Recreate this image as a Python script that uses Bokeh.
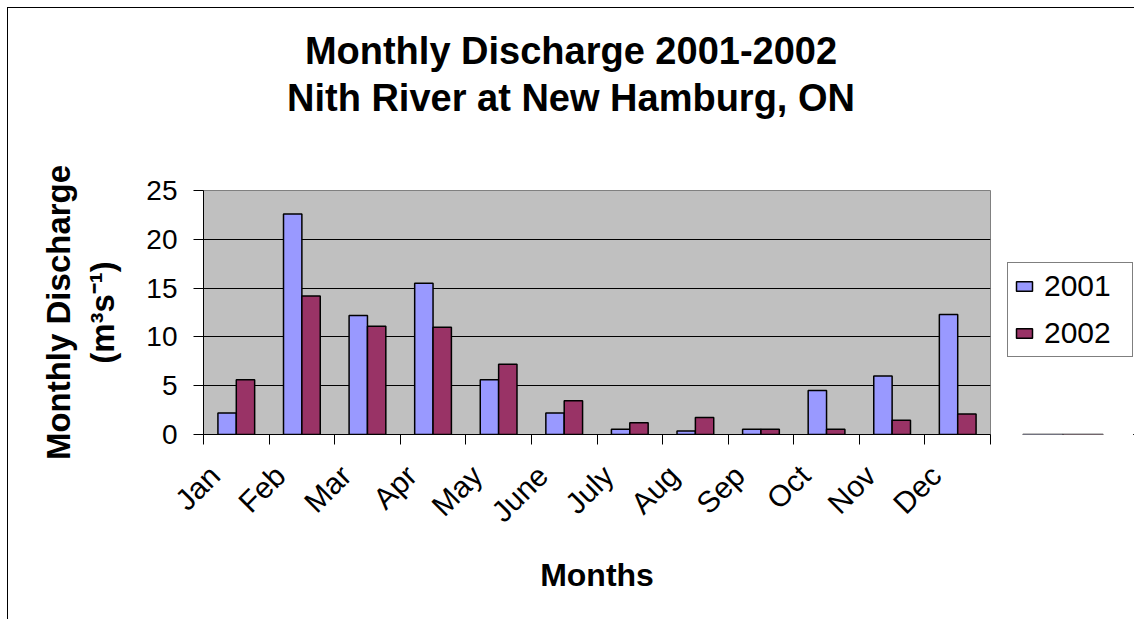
import math
from bokeh.plotting import figure
from bokeh.models import (Range1d, FixedTicker, Legend, LegendItem, ColumnDataSource, Div)
from bokeh.layouts import column, row
from bokeh.embed import file_html
from bokeh.resources import INLINE

title_lines = ["Monthly Discharge 2001-2002", "Nith River at New Hamburg, ON"]
months = ["Jan", "Feb", "Mar", "Apr", "May", "June", "July", "Aug", "Sep", "Oct", "Nov", "Dec"]
series = ["2001", "2002"]
q2001 = [2.2, 22.6, 12.2, 15.5, 5.6, 2.2, 0.55, 0.35, 0.55, 4.5, 6.0, 12.3]
q2002 = [5.6, 14.2, 11.1, 11.0, 7.2, 3.45, 1.2, 1.75, 0.55, 0.55, 1.45, 2.1]
y_ticks = [0, 5, 10, 15, 20, 25]
colors = ["#9999FF", "#993366"]

FONT = "Liberation Sans"
TOTAL_W, TOTAL_H = 1126, 611
TITLE_H = 130
MAIN_W = 983
LEG_W = TOTAL_W - MAIN_W
FIG_H = TOTAL_H - TITLE_H
BORDER_TOP, BORDER_BOTTOM = 52, 185

centers = [i + 0.5 for i in range(len(months))]
label_pos = [c - 0.33 for c in centers]
src = ColumnDataSource(data=dict(
    x1=[c - 0.14 for c in centers], x2=[c + 0.14 for c in centers],
    q2001=q2001, q2002=q2002))

# ---- title ----
title_div = Div(
    text=('<div style="width:%dpx;text-align:center;font-family:\'Liberation Sans\';'
          'font-weight:bold;font-size:38px;line-height:47px;padding-top:20px;'
          'color:black;margin:0;">' % TOTAL_W) + "<br>".join(title_lines) + "</div>",
    width=TOTAL_W, height=TITLE_H, margin=(0, 0, 0, 0))

# ---- main chart ----
p = figure(width=MAIN_W, height=FIG_H, output_backend="svg", toolbar_location=None,
           x_range=Range1d(0, len(months)), y_range=Range1d(0, 25),
           min_border_left=195, min_border_right=1,
           min_border_top=BORDER_TOP, min_border_bottom=BORDER_BOTTOM)

p.background_fill_color = "#C0C0C0"
p.border_fill_color = "white"
p.outline_line_color = "#808080"
p.outline_line_width = 1

r1 = p.vbar(x="x1", top="q2001", width=0.28, source=src, fill_color=colors[0],
            line_color="black", line_width=1.5)
r2 = p.vbar(x="x2", top="q2002", width=0.28, source=src, fill_color=colors[1],
            line_color="black", line_width=1.5)

# x axis
xa = p.xaxis[0]
xa.ticker = FixedTicker(ticks=label_pos, minor_ticks=list(range(len(months) + 1)))
xa.major_label_overrides = {c: m for c, m in zip(label_pos, months)}
xa.major_label_orientation = math.pi / 4
xa.major_tick_line_color = None
xa.major_tick_out = 10
xa.major_tick_in = 0
xa.minor_tick_line_color = "black"
xa.minor_tick_out = 10
xa.minor_tick_in = 0
xa.axis_line_color = "black"
xa.major_label_text_font = FONT
xa.major_label_text_font_size = "30px"
xa.major_label_text_color = "black"
xa.major_label_standoff = 26
xa.axis_label = "Months"
xa.axis_label_text_font = FONT
xa.axis_label_text_font_size = "32px"
xa.axis_label_text_font_style = "bold"
xa.axis_label_text_color = "black"
xa.axis_label_standoff = 14

# y axis
ya = p.yaxis[0]
ya.ticker = FixedTicker(ticks=y_ticks)
ya.major_tick_out = 10
ya.major_tick_in = 0
ya.minor_tick_line_color = None
ya.axis_line_color = "black"
ya.major_label_text_font = FONT
ya.major_label_text_font_size = "28px"
ya.major_label_text_color = "black"
ya.major_label_standoff = 16
ya.axis_label = "Monthly Discharge\n(m³s⁻¹)"
ya.axis_label_text_font = FONT
ya.axis_label_text_font_size = "33px"
ya.axis_label_text_font_style = "bold"
ya.axis_label_text_color = "black"
ya.axis_label_standoff = 22

p.xgrid.grid_line_color = None
p.ygrid.grid_line_color = "black"
p.ygrid.grid_line_width = 1
p.ygrid.ticker = FixedTicker(ticks=y_ticks[1:-1])

# ---- legend holder (right of chart); its ranges keep the bars out of view ----
q = figure(width=LEG_W, height=FIG_H, output_backend="svg", toolbar_location=None,
           x_range=Range1d(0, 1), y_range=Range1d(1000, 1001),
           x_axis_type=None, y_axis_type=None,
           min_border_left=0, min_border_right=0,
           min_border_top=BORDER_TOP, min_border_bottom=BORDER_BOTTOM)
q.outline_line_color = None
q.background_fill_color = "white"
q.border_fill_color = "white"
q.grid.visible = False
lr1 = q.vbar(x="x1", top="q2001", width=0.28, source=src, fill_color=colors[0],
             line_color="black", line_width=1.5)
lr2 = q.vbar(x="x2", top="q2002", width=0.28, source=src, fill_color=colors[1],
             line_color="black", line_width=1.5)

legend = Legend(items=[LegendItem(label=series[0], renderers=[lr1]),
                       LegendItem(label=series[1], renderers=[lr2])],
                location=(16, 77), margin=0, padding=6, spacing=13,
                glyph_width=20, glyph_height=12, label_standoff=10, label_width=82,
                label_text_font=FONT, label_text_font_size="30px",
                label_text_color="black",
                border_line_color="black", border_line_width=1,
                background_fill_color="white", background_fill_alpha=1)
q.add_layout(legend, "center")

layout = column(title_div, row(p, q))
layout.styles = {"border-left": "1px solid black", "border-top": "1px solid black",
                 "margin-left": "7px", "margin-top": "7px"}

open("out.html", "w").write(file_html(layout, INLINE))
